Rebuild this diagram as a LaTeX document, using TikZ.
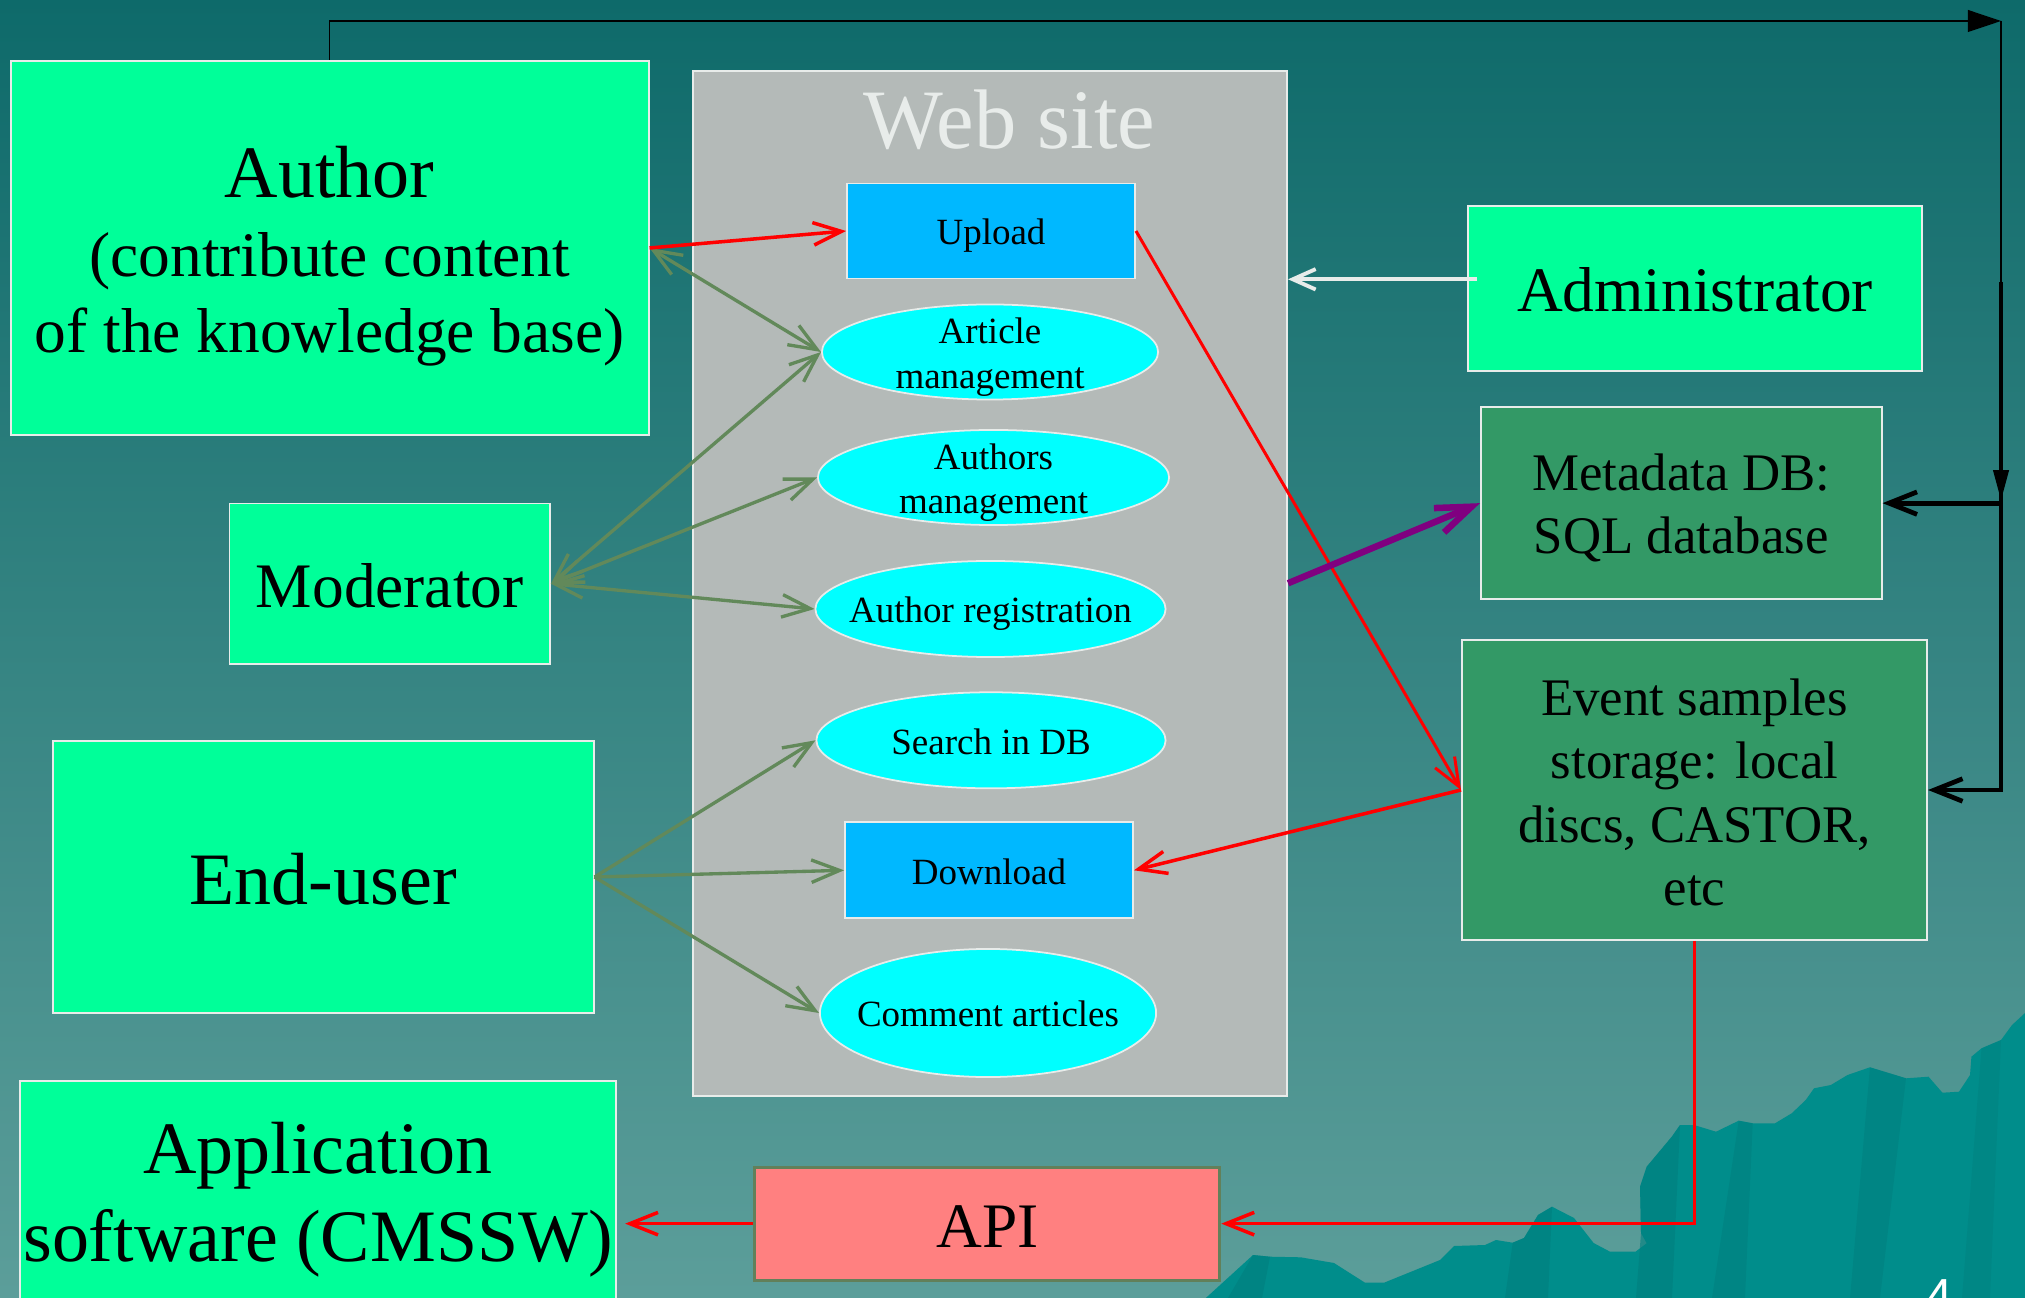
\documentclass[tikz,border=0pt]{standalone}
\usepackage{fontspec}
\setmainfont{Liberation Serif}
\newfontfamily\pgsans{Liberation Sans}
\usetikzlibrary{arrows.meta,shapes.geometric}
\definecolor{bgtop}{RGB}{14,106,106}
\definecolor{bgbot}{RGB}{92,158,154}
\definecolor{actor}{RGB}{0,255,153}
\definecolor{store}{RGB}{51,153,102}
\definecolor{webgray}{RGB}{180,186,184}
\definecolor{usecase}{RGB}{0,255,255}
\definecolor{action}{RGB}{0,184,255}
\definecolor{apifill}{RGB}{255,128,128}
\definecolor{apiedge}{RGB}{98,128,90}
\definecolor{linkgreen}{RGB}{98,137,90}
\definecolor{linkpurple}{RGB}{128,0,128}
\definecolor{mount}{RGB}{0,141,139}
\definecolor{mountdark}{RGB}{0,126,126}
\definecolor{edgewhite}{RGB}{232,236,234}
\newcommand\fsA{\fontsize{21.03pt}{25.2pt}\selectfont}
\newcommand\fsB{\fontsize{18.03pt}{21.6pt}\selectfont}
\newcommand\fsC{\fontsize{15.02pt}{18.02pt}\selectfont}
\newcommand\fsD{\fontsize{10.52pt}{12.62pt}\selectfont}
\newcommand\fsW{\fontsize{24.04pt}{28.8pt}\selectfont}
\tikzset{
  box/.style={rectangle, draw=edgewhite, line width=0.5pt, inner sep=0pt, align=center, text=black},
  actorbox/.style={box, fill=actor},
  storebox/.style={box, fill=store},
  storetext/.style={align=center, inner sep=0pt, font=\fsC, text=black},
  actbox/.style={box, fill=action, font=\fsD, text height=7.8pt, text depth=0pt},
  uc/.style={ellipse, draw=edgewhite, line width=0.5pt, fill=usecase, inner sep=0pt},
  uctext/.style={align=center, inner sep=0pt, font=\fsD, text=black},
  ucline/.style={uctext, text height=7.8pt, text depth=0pt},
  lineA/.style={text height=15.6pt, text depth=0pt},
  lineB/.style={text height=13.3pt, text depth=0pt},
  barb/.style={-{Straight Barb[length=8pt,width=6.4pt]}},
  bothbarb/.style={{Straight Barb[length=8pt,width=6.4pt]}-{Straight Barb[length=8pt,width=6.4pt]}},
  redlink/.style={draw=red, line width=1pt, barb},
  greenlink/.style={draw=linkgreen, line width=0.95pt},
  purplelink/.style={draw=linkpurple, line width=1.85pt, -{Straight Barb[length=10pt,width=7.5pt]}},
  whitelink/.style={draw=edgewhite, line width=1.1pt, -{Straight Barb[length=6.5pt,width=5.8pt]}},
  thinblack/.style={draw=black, line width=0.4pt},
  thickblack/.style={draw=black, line width=1.35pt, barb},
}
\begin{document}
\begin{tikzpicture}[x=0.01cm, y=-0.01cm]
\useasboundingbox (0,0) rectangle (2025,1298);
\clip (0,0) rectangle (2025,1298);
% background
\shade[top color=bgtop, bottom color=bgbot] (0,0) rectangle (2025,1298);
% mountains
\fill[mount] (1205.8,1298) -- (1253,1255) -- (1270,1256.7) -- (1300.7,1257.3) -- (1334,1263)
  -- (1365,1282.7) -- (1384,1282.7) -- (1440,1260) -- (1454,1246) -- (1485,1245) -- (1496,1240)
  -- (1512.7,1242.7) -- (1524,1238) -- (1538,1215) -- (1552,1206.7) -- (1574,1218) -- (1593.6,1243)
  -- (1610,1251.7) -- (1635.5,1251.7) -- (1646.7,1243.3) -- (1641,1233) -- (1640,1186.7)
  -- (1646.7,1166.7) -- (1671.8,1136.7) -- (1680,1125) -- (1694,1125) -- (1716,1131.7)
  -- (1738.7,1120.7) -- (1752.7,1123.3) -- (1775,1123.3) -- (1791.7,1113.3) -- (1805.7,1100)
  -- (1814,1088.3) -- (1830.8,1085) -- (1847.5,1075) -- (1869.9,1067.3) -- (1906,1078.3)
  -- (1928.5,1076.7) -- (1942.4,1092.7) -- (1959,1091.7) -- (1970,1075) -- (1971.4,1056.7)
  -- (1981.5,1048.3) -- (2001,1040) -- (2012,1025) -- (2025,1013) -- (2025,1298) -- cycle;
\fill[mountdark, opacity=0.6] (1253,1255) -- (1270,1256.7) -- (1262,1298) -- (1228,1298) -- cycle;
\fill[mountdark, opacity=0.6] (1512.7,1242.7) -- (1524,1238) -- (1538,1215) -- (1552,1206.7) -- (1548,1298) -- (1505,1298) -- cycle;
\fill[mountdark, opacity=0.6] (1641,1233) -- (1640,1186.7) -- (1646.7,1166.7) -- (1671.8,1136.7) -- (1680,1125) -- (1672,1298) -- (1636,1298) -- cycle;
\fill[mountdark, opacity=0.5] (1738.7,1120.7) -- (1752.7,1123.3) -- (1745,1298) -- (1712,1298) -- cycle;
\fill[mountdark, opacity=0.5] (1869.9,1067.3) -- (1906,1078.3) -- (1880,1298) -- (1850,1298) -- cycle;
\fill[mountdark, opacity=0.4] (1981.5,1048.3) -- (2001,1040) -- (1990,1298) -- (1962,1298) -- cycle;
\node[anchor=base west, text=white, font=\pgsans\fontsize{14pt}{16pt}\selectfont, inner sep=0pt] (pagenum) at (1925,1313) {4};

% actors
\node[actorbox, minimum width=6.375cm, minimum height=3.74cm] (author) at (329.75,248) {};
\node[align=center, inner sep=0pt, font=\fsB, text=black] (authortext) at ([yshift=-0.085cm]author.center)
  {{\fsA Author}\\[0.8pt](contribute content\\of the knowledge base)};
\node[actorbox, lineB, font=\fsB, minimum width=3.205cm, minimum height=1.605cm] (moderator) at (389.75,583.75) {Moderator};
\node[actorbox, lineA, font=\fsA, minimum width=5.405cm, minimum height=2.72cm] (enduser) at (323.25,877) {End-user};
\node[actorbox, font=\fsA, minimum width=5.96cm, minimum height=2.374cm] (appsw) at (318,1199.7) {Application\\software (CMSSW)};
\node[actorbox, lineB, font=\fsB, minimum width=4.54cm, minimum height=1.65cm] (admin) at (1695,288.5) {Administrator};

% web site
\node[box, fill=webgray, minimum width=5.935cm, minimum height=10.245cm] (website) at (990.25,583.25) {};
\node[anchor=base, text=edgewhite, font=\fsW, inner sep=0pt] (webtitle) at (1009.5,149) {Web site};
\node[actbox, minimum width=2.88cm, minimum height=0.95cm] (upload) at (991,231) {Upload};
\node[uc, minimum width=3.36cm, minimum height=0.95cm] (artm) at (990,352) {};
\node[uctext] (artmtext) at ([yshift=-0.05cm]artm.center) {Article\\management};
\node[uc, minimum width=3.51cm, minimum height=0.95cm] (authm) at (993.5,477.5) {};
\node[uctext] (authmtext) at ([yshift=-0.05cm]authm.center) {Authors\\management};
\node[uc, minimum width=3.5cm, minimum height=0.96cm] (authreg) at (990.5,609) {};
\node[ucline] (authregtext) at (authreg.center) {Author registration};
\node[uc, minimum width=3.49cm, minimum height=0.96cm] (search) at (991,740.3) {};
\node[ucline] (searchtext) at (search.center) {Search in DB};
\node[actbox, minimum width=2.88cm, minimum height=0.96cm] (download) at (989,870.3) {Download};
\node[uc, minimum width=3.36cm, minimum height=1.28cm] (comment) at (988,1013) {};
\node[ucline] (commenttext) at (comment.center) {Comment articles};

% storage
\node[storebox, minimum width=4.005cm, minimum height=1.923cm] (meta) at (1681.25,503.15) {};
\node[storetext] (metatext) at ([yshift=-0.05cm]meta.center) {Metadata DB:\\SQL database};
\node[storebox, minimum width=4.65cm, minimum height=3.0cm] (event) at (1694.5,790) {};
\node[storetext] (eventtext) at ([yshift=-0.025cm]event.center) {Event samples\\storage: local\\discs, CASTOR,\\etc};
\node[box, lineB, draw=apiedge, line width=0.85pt, fill=apifill, font=\fsB, minimum width=4.647cm, minimum height=1.127cm] (api) at (987.35,1223.65) {API};

% green links
\draw[greenlink, bothbarb] (author.east) -- (artm.west);
\draw[greenlink, bothbarb] (moderator.east) -- (artm.west);
\draw[greenlink, bothbarb] (moderator.east) -- (authm.west);
\draw[greenlink, bothbarb] (moderator.east) -- (authreg.west);
\draw[greenlink, barb] (enduser.east) -- (search.west);
\draw[greenlink, barb] (enduser.east) -- (download.west);
\draw[greenlink, barb] (enduser.east) -- (comment.west);

% red links
\draw[redlink] (author.east) -- (upload.west);
\draw[redlink, line width=0.85pt] (upload.east) -- (event.west);
\draw[redlink] (event.west) -- (download.east);
\draw[redlink] (event.south) |- (api.east);
\draw[redlink, shorten >=2.3pt] (api.west) -- (api.west -| appsw.east);

% purple link
\draw[purplelink] (website.east) -- (meta.west);

% white link
\coordinate (wstart) at ([xshift=0.1cm,yshift=0.092cm]admin.west);
\draw[whitelink] (wstart) -- (wstart -| website.east);

% black links
\coordinate (ctop) at (2001,21);
\coordinate (cdown) at (2001,500);
\coordinate (cmid) at (2001,503.15);
\coordinate (cthick) at (2001,282);
\draw[thinblack, -{Triangle[length=9.4pt,width=6.2pt]}] (author.north) |- (ctop);
\draw[thinblack, -{Triangle[length=8.5pt,width=4.5pt]}] (ctop) -- (cdown);
\draw[thickblack] (cthick) |- (event.east);
\draw[thickblack] (cmid) -- (meta.east);
\end{tikzpicture}
\end{document}
